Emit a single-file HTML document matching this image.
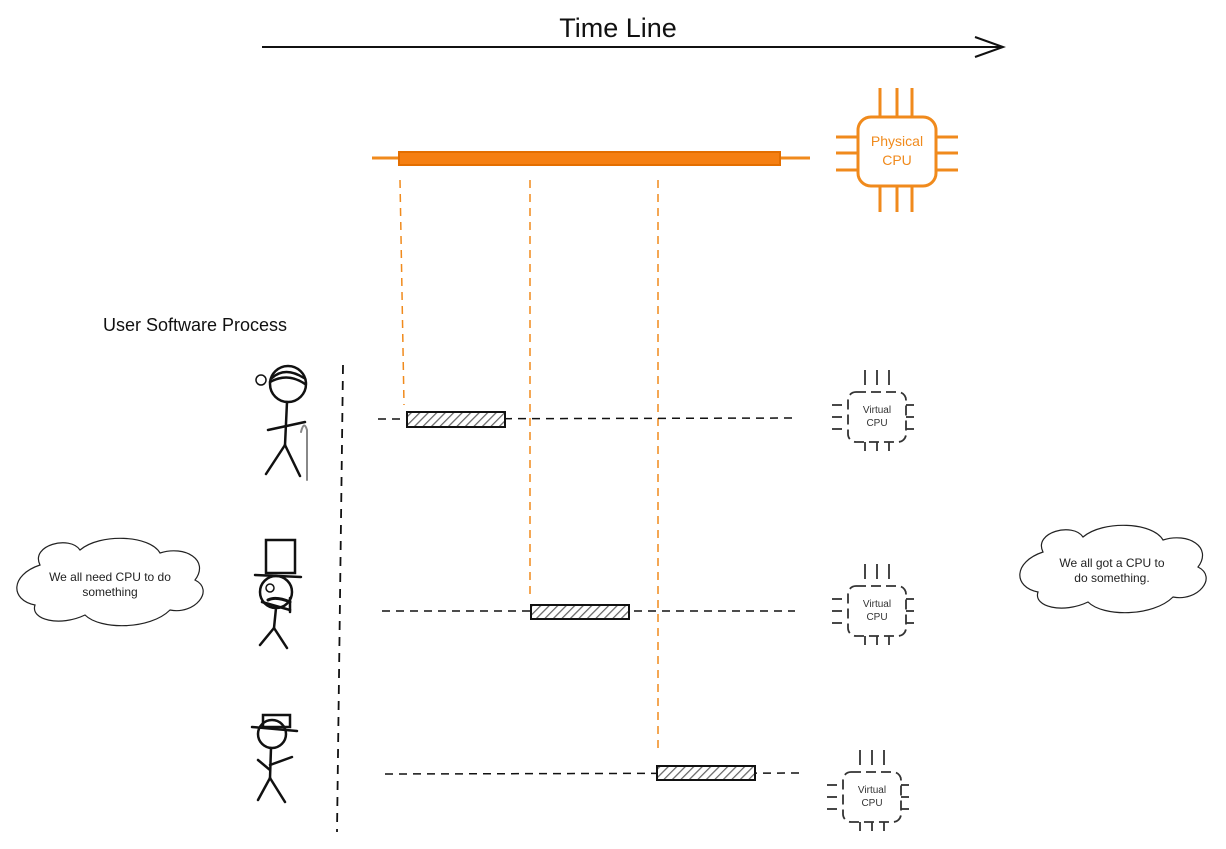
<!DOCTYPE html>
<html><head><meta charset="utf-8"><style>
html,body{margin:0;padding:0;background:#fff;}
svg{display:block;}
text{font-family:"Liberation Sans",sans-serif;}
</style></head><body>
<svg width="1226" height="849" viewBox="0 0 1226 849" xmlns="http://www.w3.org/2000/svg">
<defs>
<pattern id="h" width="6" height="6" patternUnits="userSpaceOnUse" patternTransform="rotate(45)">
<rect width="6" height="6" fill="#fff"/><line x1="0" y1="0" x2="0" y2="6" stroke="#666" stroke-width="2.5"/>
</pattern>
<path id="cloud" d="M30 30 C20 10,60 0,70 15 C90 -2,140 0,150 18 C175 10,200 25,185 45 C205 55,185 80,160 75 C140 95,90 95,75 80 C50 92,20 85,25 70 C0 65,0 40,30 30 Z" fill="#fff" stroke="#222" stroke-width="1.2"/>
<g id="vcpu" fill="none" stroke="#333" stroke-width="1.8" stroke-dasharray="10 5">
<rect x="-29" y="-25" width="58" height="50" rx="8"/>
<line x1="-12" y1="-47" x2="-12" y2="-32" stroke-dasharray="none"/><line x1="0" y1="-47" x2="0" y2="-32" stroke-dasharray="none"/><line x1="12" y1="-47" x2="12" y2="-32" stroke-dasharray="none"/>
<line x1="-12" y1="25" x2="-12" y2="34" stroke-dasharray="none"/><line x1="0" y1="25" x2="0" y2="34" stroke-dasharray="none"/><line x1="12" y1="25" x2="12" y2="34" stroke-dasharray="none"/>
<line x1="-45" y1="-12" x2="-35" y2="-12" stroke-dasharray="none"/><line x1="-45" y1="0" x2="-35" y2="0" stroke-dasharray="none"/><line x1="-45" y1="12" x2="-35" y2="12" stroke-dasharray="none"/>
<line x1="29" y1="-12" x2="37" y2="-12" stroke-dasharray="none"/><line x1="29" y1="0" x2="37" y2="0" stroke-dasharray="none"/><line x1="29" y1="12" x2="37" y2="12" stroke-dasharray="none"/>
</g>
</defs>

<text x="618" y="37" font-size="27" text-anchor="middle" fill="#111">Time Line</text>
<line x1="262" y1="47" x2="1003" y2="47" stroke="#111" stroke-width="2"/>
<path d="M975 37 L1003 47 L975 57" fill="none" stroke="#111" stroke-width="2"/>

<!-- physical cpu -->
<line x1="372" y1="158" x2="810" y2="158" stroke="#f08a1c" stroke-width="3"/>
<rect x="399" y="152" width="381" height="13" fill="#f57f12" stroke="#e36e00" stroke-width="2"/>
<g stroke="#f08a1c" stroke-width="3" fill="none">
<rect x="858" y="117" width="78" height="69" rx="13"/>
<line x1="880" y1="88" x2="880" y2="117"/><line x1="897" y1="88" x2="897" y2="117"/><line x1="912" y1="88" x2="912" y2="117"/>
<line x1="880" y1="186" x2="880" y2="212"/><line x1="897" y1="186" x2="897" y2="212"/><line x1="912" y1="186" x2="912" y2="212"/>
<line x1="836" y1="137" x2="858" y2="137"/><line x1="836" y1="153" x2="858" y2="153"/><line x1="836" y1="170" x2="858" y2="170"/>
<line x1="936" y1="137" x2="958" y2="137"/><line x1="936" y1="153" x2="958" y2="153"/><line x1="936" y1="170" x2="958" y2="170"/>
</g>
<text x="897" y="146" font-size="14" fill="#f08a1c" text-anchor="middle">Physical</text>
<text x="897" y="165" font-size="14" fill="#f08a1c" text-anchor="middle">CPU</text>

<!-- orange dashed -->
<g stroke="#f08a1c" stroke-width="1.5" stroke-dasharray="8 6">
<line x1="400" y1="180" x2="404" y2="405"/>
<line x1="530" y1="180" x2="530" y2="600"/>
<line x1="658" y1="180" x2="658" y2="752"/>
</g>

<text x="103" y="331" font-size="18" fill="#111">User Software Process</text>
<line x1="343" y1="365" x2="337" y2="832" stroke="#111" stroke-width="1.8" stroke-dasharray="9 7"/>

<!-- timelines -->
<g stroke="#111" stroke-width="1.5" stroke-dasharray="8 6">
<line x1="378" y1="419" x2="797" y2="418"/>
<line x1="382" y1="611" x2="795" y2="611"/>
<line x1="385" y1="774" x2="805" y2="773"/>
</g>
<g stroke="#111" stroke-width="2" fill="url(#h)">
<rect x="407" y="412" width="98" height="15"/>
<rect x="531" y="605" width="98" height="14"/>
<rect x="657" y="766" width="98" height="14"/>
</g>

<use href="#vcpu" x="877" y="417"/>
<text x="877" y="413" font-size="10" text-anchor="middle" fill="#333">Virtual</text>
<text x="877" y="426" font-size="10" text-anchor="middle" fill="#333">CPU</text>
<use href="#vcpu" x="877" y="611"/>
<text x="877" y="607" font-size="10" text-anchor="middle" fill="#333">Virtual</text>
<text x="877" y="620" font-size="10" text-anchor="middle" fill="#333">CPU</text>
<use href="#vcpu" x="872" y="797"/>
<text x="872" y="793" font-size="10" text-anchor="middle" fill="#333">Virtual</text>
<text x="872" y="806" font-size="10" text-anchor="middle" fill="#333">CPU</text>

<!-- figures -->
<g stroke="#111" stroke-width="2.5" fill="none" stroke-linecap="round">
<circle cx="288" cy="384" r="18"/>
<path d="M272 378 Q285 366 304 378 M270 382 Q288 372 305 384"/>
<line x1="287" y1="402" x2="285" y2="445"/>
<line x1="268" y1="430" x2="305" y2="422"/>
<line x1="285" y1="445" x2="266" y2="474"/><line x1="285" y1="445" x2="300" y2="476"/>
<circle cx="261" cy="380" r="5" stroke-width="1.5"/>
<path d="M301 432 Q304 420 307 430 L307 480" stroke="#888" stroke-width="2"/>

<rect x="266" y="540" width="29" height="33"/>
<line x1="255" y1="575" x2="301" y2="577"/>
<circle cx="276" cy="592" r="16"/>
<circle cx="270" cy="588" r="4" stroke-width="1.5"/>
<path d="M268 600 Q276 596 290 602" stroke-width="3"/>
<line x1="276" y1="608" x2="274" y2="628"/>
<line x1="262" y1="602" x2="290" y2="610"/><line x1="290" y1="598" x2="290" y2="612"/>
<line x1="274" y1="628" x2="260" y2="645"/><line x1="274" y1="628" x2="287" y2="648"/>

<rect x="263" y="715" width="27" height="12"/>
<line x1="252" y1="727" x2="297" y2="731"/>
<circle cx="272" cy="734" r="14"/>
<line x1="271" y1="748" x2="270" y2="778"/>
<line x1="258" y1="760" x2="270" y2="770"/><line x1="270" y1="765" x2="292" y2="757"/>
<line x1="270" y1="778" x2="258" y2="800"/><line x1="270" y1="778" x2="285" y2="802"/>
</g>

<!-- clouds -->
<use href="#cloud" transform="translate(10,535)"/>
<text x="110" y="581" font-size="12" text-anchor="middle" fill="#222">We all need CPU to do</text>
<text x="110" y="596" font-size="12" text-anchor="middle" fill="#222">something</text>
<use href="#cloud" transform="translate(1013,522)"/>
<text x="1112" y="567" font-size="12" text-anchor="middle" fill="#222">We all got a CPU to</text>
<text x="1112" y="582" font-size="12" text-anchor="middle" fill="#222">do something.</text>
</svg>
</body></html>
